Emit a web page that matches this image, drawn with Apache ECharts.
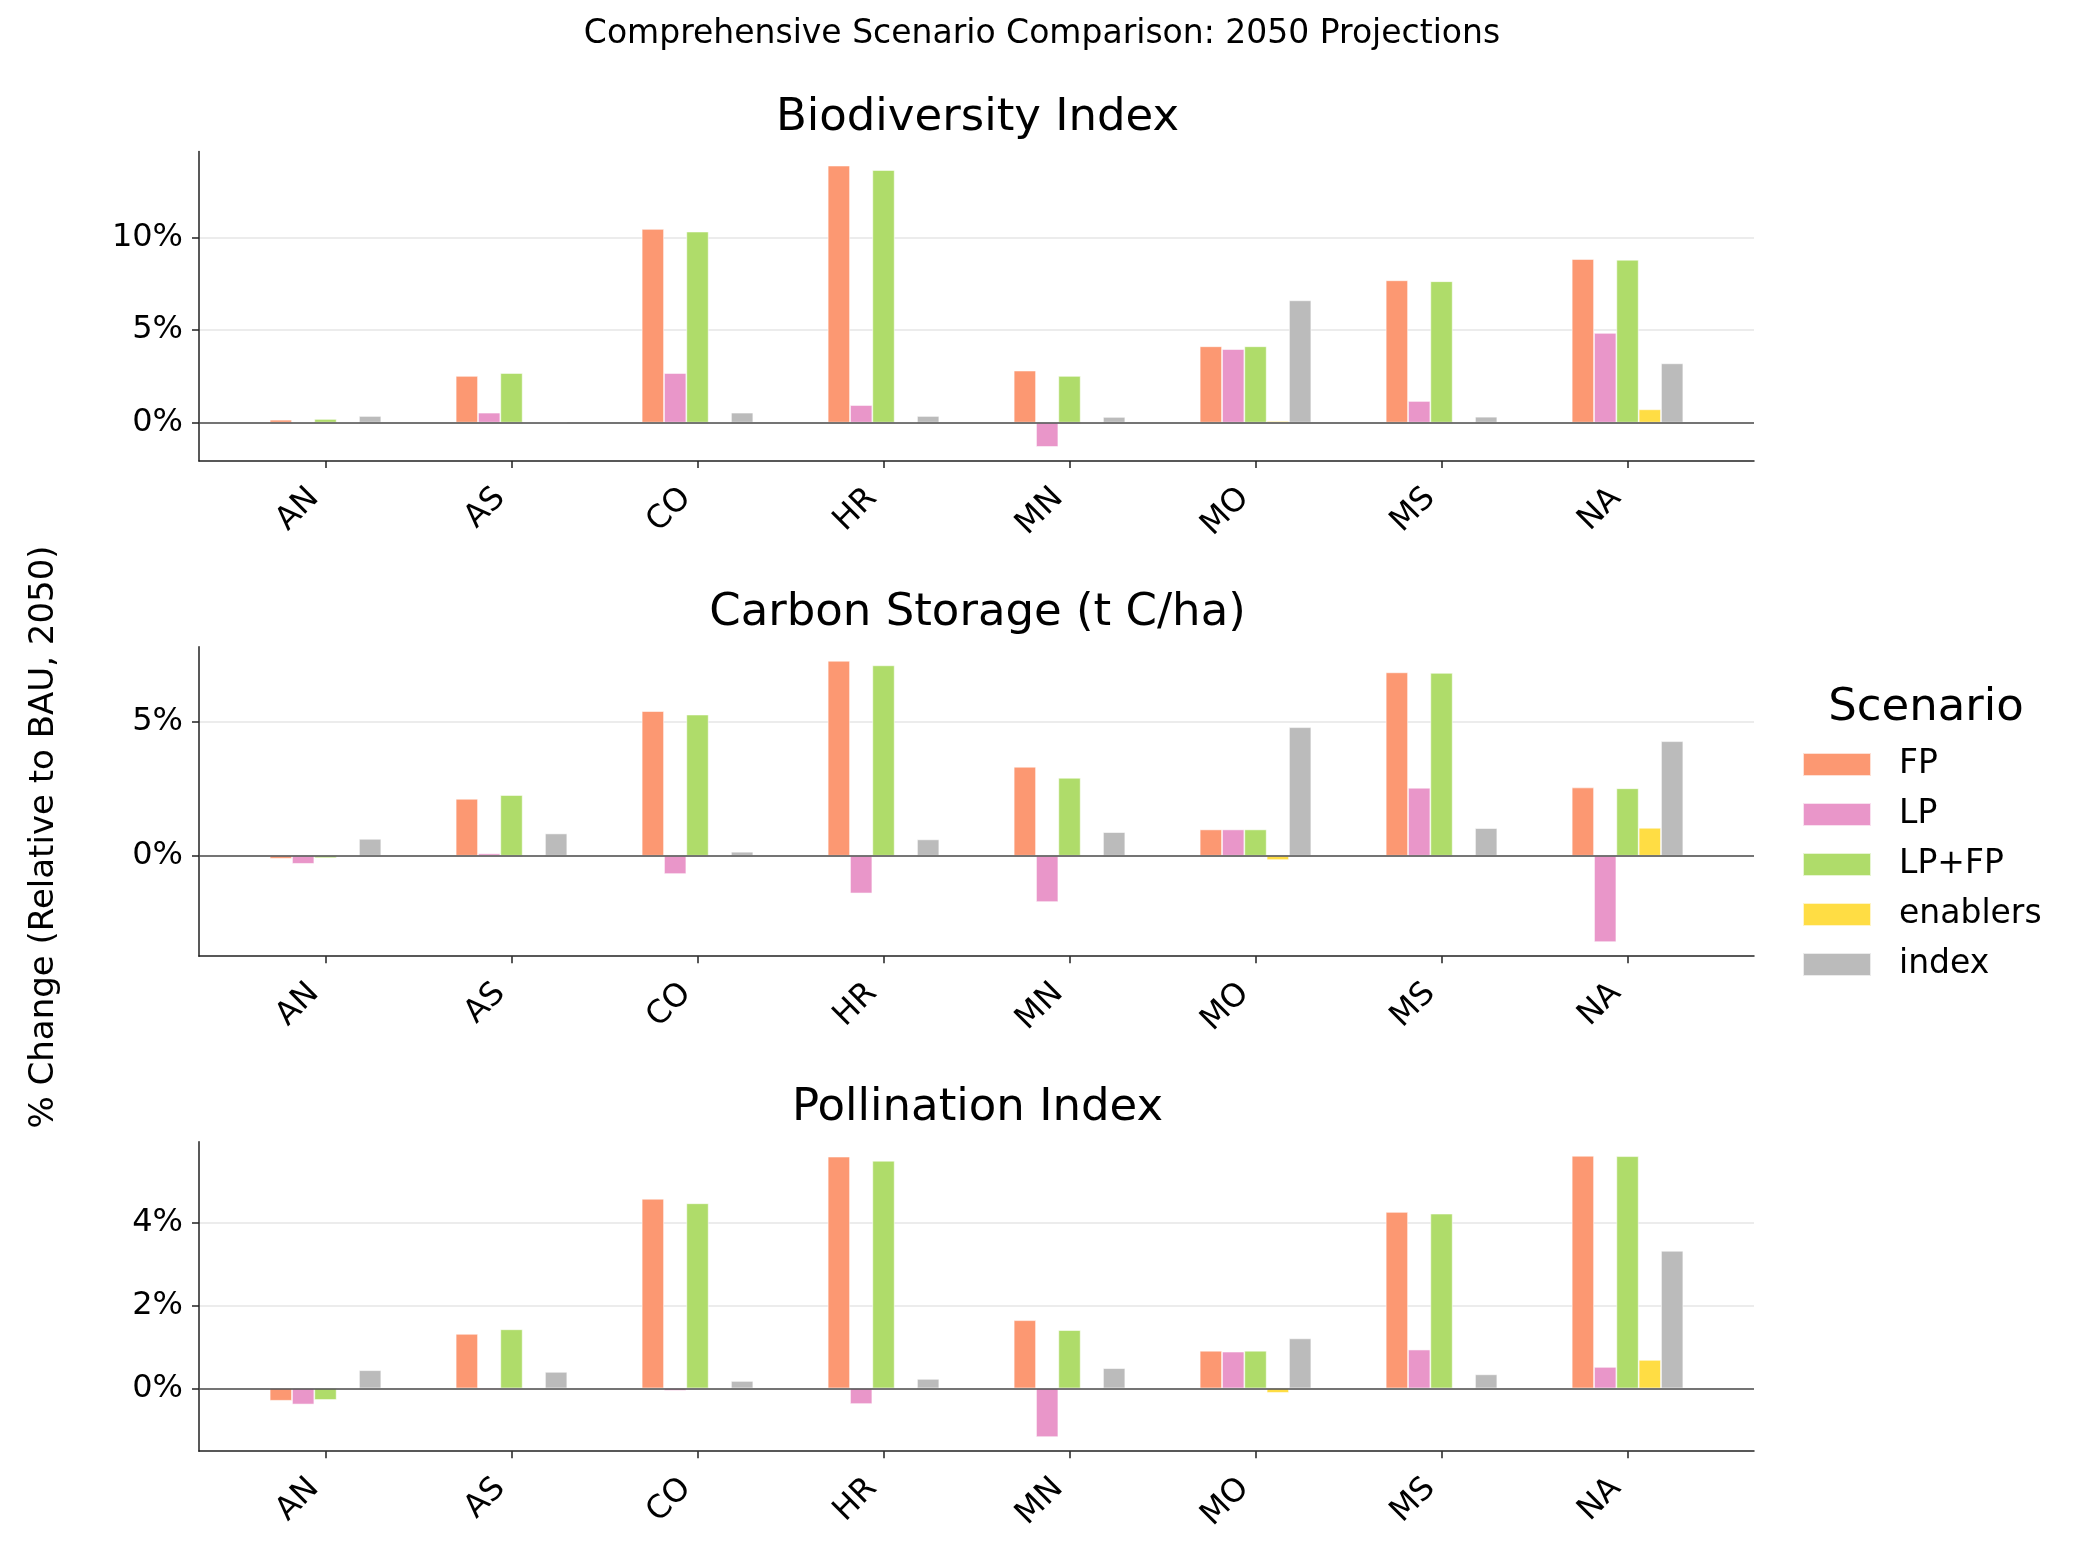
<!DOCTYPE html>
<html>
<head>
<meta charset="utf-8">
<script src="https://cdn.jsdelivr.net/npm/echarts@6/dist/echarts.min.js"></script>
<style>
  html, body { margin: 0; padding: 0; background: #fff; }
  #chart { width: 2085px; height: 1556px; }
</style>
</head>
<body>
<div id="chart"></div>
<script>
// categories and series names
var regions = ["AN", "AS", "CO", "HR", "MN", "MO", "MS", "NA"];
var scenarios = ["FP", "LP", "LP+FP", "enablers", "index"];
var panelTitles = ["Biodiversity Index", "Carbon Storage (t C/ha)", "Pollination Index"];

// Biodiversity Index, % change vs BAU
var bioFP       = [0.16, 2.52, 10.45, 13.87, 2.81, 4.12, 7.68, 8.83];
var bioLP       = [0.0, 0.54, 2.68, 0.95, -1.31, 3.97, 1.17, 4.84];
var bioLPFP     = [0.2, 2.68, 10.31, 13.63, 2.52, 4.12, 7.63, 8.79];
var bioEnablers = [0, 0, 0, 0, 0, 0.09, 0, 0.72];
var bioIndex    = [0.36, 0, 0.54, 0.36, 0.31, 6.6, 0.32, 3.2];

// Carbon Storage
var carbFP       = [-0.11, 2.12, 5.38, 7.25, 3.31, 0.98, 6.82, 2.54];
var carbLP       = [-0.30, 0.09, -0.68, -1.40, -1.72, 0.98, 2.53, -3.21];
var carbLPFP     = [-0.09, 2.26, 5.25, 7.08, 2.90, 0.98, 6.80, 2.51];
var carbEnablers = [0, 0, 0, 0, 0, -0.16, 0, 1.04];
var carbIndex    = [0.63, 0.83, 0.15, 0.61, 0.88, 4.78, 1.03, 4.26];

// Pollination Index
var polFP       = [-0.30, 1.32, 4.59, 5.61, 1.65, 0.91, 4.27, 5.63];
var polLP       = [-0.39, -0.03, -0.06, -0.38, -1.18, 0.89, 0.94, 0.52];
var polLPFP     = [-0.28, 1.43, 4.48, 5.51, 1.41, 0.91, 4.23, 5.62];
var polEnablers = [0, 0, 0, 0, 0, -0.11, 0, 0.69];
var polIndex    = [0.44, 0.40, 0.18, 0.23, 0.49, 1.21, 0.34, 3.33];

// y tick values per panel
var bioTicks = [0, 5, 10];
var carbTicks = [0, 5];
var polTicks = [0, 2, 4];

var panels = [
  { title: panelTitles[0], series: [bioFP, bioLP, bioLPFP, bioEnablers, bioIndex], ticks: bioTicks },
  { title: panelTitles[1], series: [carbFP, carbLP, carbLPFP, carbEnablers, carbIndex], ticks: carbTicks },
  { title: panelTitles[2], series: [polFP, polLP, polLPFP, polEnablers, polIndex], ticks: polTicks }
];

var colors = ["#fc9872", "#e996c9", "#afdc6a", "#ffdd44", "#bbbbbb"];
var font = "DejaVu Sans";

var gridLeft = 199, gridWidth = 1555, gridHeight = 309.5;
var gridTops = [151.5, 646.7, 1141.7];
var barStep = 0.12;               // bar width in category units
var xMin = -0.3 - 0.05 * 7.6, xMax = 7.3 + 0.05 * 7.6;
var barPx = barStep * gridWidth / (xMax - xMin);

var myChart = echarts.init(document.getElementById("chart"));

var grid = [], xAxis = [], yAxis = [], series = [], titles = [];

titles.push({
  text: "Comprehensive Scenario Comparison: 2050 Projections",
  left: 1037, top: 13, textAlign: "center",
  textStyle: { fontFamily: font, fontSize: 33, fontWeight: "normal", color: "#000" }
});

panels.forEach(function (p, g) {
  var all = [].concat.apply([0], p.series);
  var lo = Math.min.apply(null, all), hi = Math.max.apply(null, all);
  var pad = 0.05 * (hi - lo);

  grid.push({ left: gridLeft, width: gridWidth, top: gridTops[g], height: gridHeight });

  titles.push({
    text: p.title,
    left: gridLeft + gridWidth / 2 - 4, top: gridTops[g] - 61, textAlign: "center",
    textStyle: { fontFamily: font, fontSize: 45, fontWeight: "normal", color: "#000" }
  });

  xAxis.push({
    type: "value", gridIndex: g, min: xMin, max: xMax,
    axisLine: { show: true, onZero: false, lineStyle: { color: "#222", width: 1.5 } },
    axisTick: { show: true, length: 7, customValues: regions.map(function (r, i) { return i; }),
                lineStyle: { color: "#222", width: 1.5 } },
    axisLabel: {
      customValues: regions.map(function (r, i) { return i; }),
      formatter: function (v) { return regions[Math.round(v)]; },
      rotate: 45, margin: 21, padding: [0, 16, 0, 0],
      fontFamily: font, fontSize: 32, color: "#000",
      hideOverlap: false
    },
    splitLine: { show: false }
  });

  yAxis.push({
    type: "value", gridIndex: g, min: lo - pad, max: hi + pad,
    axisLine: { show: true, onZero: false, lineStyle: { color: "#222", width: 1.5 } },
    axisTick: { show: true, length: 7, customValues: p.ticks, lineStyle: { color: "#222", width: 1.5 } },
    axisLabel: {
      customValues: p.ticks,
      formatter: function (v) { return Math.round(v) + "%"; },
      margin: 16, fontFamily: font, fontSize: 32, color: "#000"
    },
    splitLine: { show: true, lineStyle: { color: "#e6e6e6", width: 1.5 } }
  });

  p.series.forEach(function (vals, k) {
    var off = (k - 2) * barStep;
    var s = {
      name: scenarios[k], type: "bar",
      xAxisIndex: g, yAxisIndex: g,
      barWidth: barPx, barGap: "-100%",
      itemStyle: { color: colors[k], borderColor: "rgba(255,255,255,0.7)", borderWidth: 0.8 },
      data: vals.map(function (v, i) { return [i + off, v]; })
    };
    if (k === 0) {
      s.markLine = {
        silent: true, symbol: "none", label: { show: false }, z: 10,
        lineStyle: { color: "#4d4d4d", type: "solid", width: 1.6 },
        data: [{ yAxis: 0 }]
      };
    }
    series.push(s);
  });
});

var option = {
  animation: false,
  backgroundColor: "#fff",
  color: colors,
  title: titles,
  grid: grid,
  xAxis: xAxis,
  yAxis: yAxis,
  legend: {
    data: scenarios, orient: "vertical",
    left: 1802, top: 748, padding: 0,
    itemWidth: 68, itemHeight: 23, itemGap: 17,
    icon: "rect", selectedMode: false,
    textStyle: { fontFamily: font, fontSize: 33, lineHeight: 33, color: "#000", padding: [0, 0, 0, 23] }
  },
  graphic: [
    {
      type: "text", x: 1926, y: 708,
      style: { text: "Scenario", font: "45px '" + font + "'", fill: "#000",
               textAlign: "center", textVerticalAlign: "middle" }
    },
    {
      type: "text", x: 44, y: 837, rotation: Math.PI / 2,
      style: { text: "% Change (Relative to BAU, 2050)", font: "34px '" + font + "'", fill: "#000",
               textAlign: "center", textVerticalAlign: "middle" }
    }
  ],
  series: series
};

myChart.setOption(option);
window.addEventListener("resize", myChart.resize);
</script>
</body>
</html>
